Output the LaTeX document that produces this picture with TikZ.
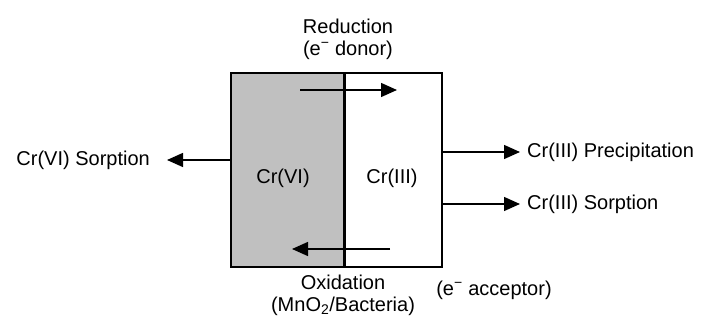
\documentclass[tikz,border=0pt]{standalone}
\usepackage{fontspec}
\setmainfont{Liberation Sans}
\usetikzlibrary{positioning,arrows.meta}
\definecolor{cellgray}{HTML}{C0C0C0}
\tikzset{
  cell/.style={draw,line width=1.4pt,minimum height=194pt,inner sep=0pt,outer sep=0pt},
  lbl/.style={inner sep=1pt,font=\fontsize{20}{22}\selectfont,align=center},
  arr/.style={-{Triangle[length=16pt,width=14pt]},line width=1.4pt}
}

\begin{document}
\begin{tikzpicture}[x=1pt,y=-1pt]
\useasboundingbox (0,0) rectangle (702,320);

\node[cell,fill=cellgray,minimum width=113pt] (vi) at (287.5,170) {};
\node[cell,minimum width=98pt,right=0pt of vi] (iii) {};
\draw[line width=3pt] (vi.north east) -- (vi.south east);

\node[lbl] (vitxt) at (283,178) {Cr(VI)};
\node[lbl] (iiitxt) at (392,178) {Cr(III)};

\node[lbl] (red) at (348,39) {Reduction\\(e\textsuperscript{−} donor)};
\node[lbl] (ox) at (343,295) {Oxidation\\(MnO\textsubscript{2}/Bacteria)};
\node[lbl] (acc) at (494,290) {(e\textsuperscript{−} acceptor)};

\node[lbl,anchor=east] (sorbvi) at (151,160) {Cr(VI) Sorption};
\node[lbl,anchor=west] (prec) at (526,152) {Cr(III) Precipitation};
\node[lbl,anchor=west] (sorbiii) at (526,204) {Cr(III) Sorption};

\coordinate (redA) at (300,90);
\coordinate (redB) at (397,90);
\coordinate (oxA) at (390,249);
\coordinate (oxB) at (292,249);

\draw[arr] (redA) -- (redB);
\draw[arr] (oxA) -- (oxB);
\draw[arr,shorten >=16pt] (vi.west |- sorbvi.east) -- (sorbvi.east);
\draw[arr,shorten >=6pt] (iii.east |- prec.west) -- (prec.west);
\draw[arr,shorten >=6pt] (iii.east |- sorbiii.west) -- (sorbiii.west);

\end{tikzpicture}
\end{document}
